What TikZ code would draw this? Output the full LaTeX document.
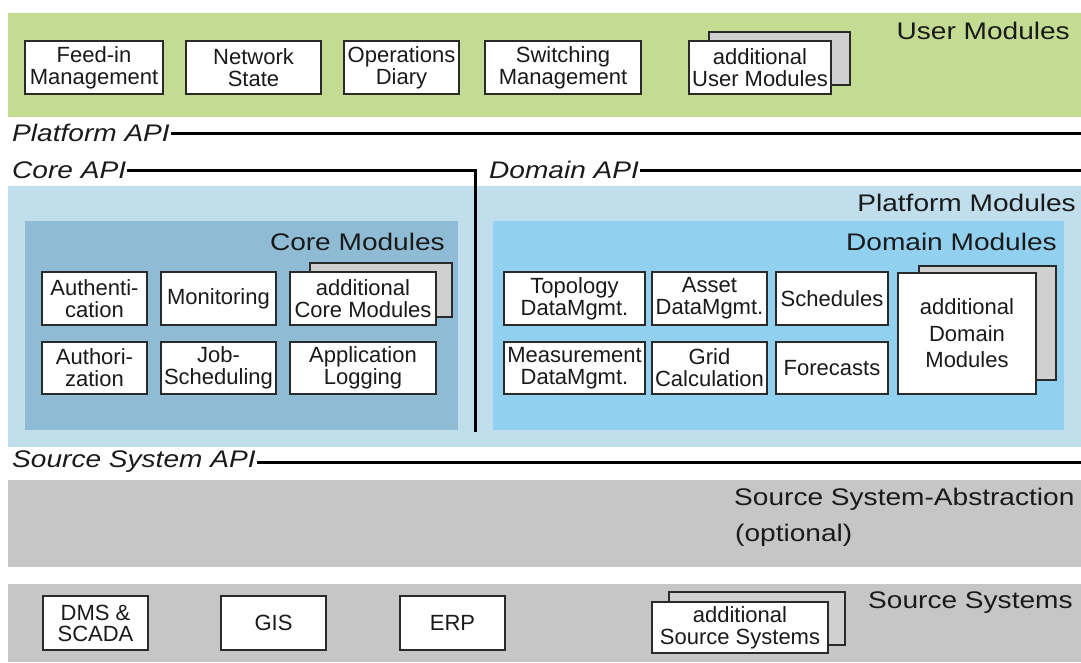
\documentclass[tikz,border=0pt]{standalone}
\usepackage{fontspec}
\setmainfont{Liberation Sans}
\newfontfamily\labelfont[FakeStretch=1.17]{Liberation Sans}

\definecolor{userfill}{HTML}{C4DC92}
\definecolor{platfill}{HTML}{C0DEEC}
\definecolor{corefill}{HTML}{8FBCD4}
\definecolor{domfill}{HTML}{92D0F0}
\definecolor{srcfill}{HTML}{C6C6C6}
\definecolor{shade}{HTML}{D0D0D0}
\definecolor{boxline}{HTML}{2A2A2A}
\definecolor{ink}{HTML}{1A1A1A}

\begin{document}
\begin{tikzpicture}[x=1pt,y=-1pt,
  % a rectangle node spanning the corners (#1,#2) and (#3,#4)
  span/.style n args={4}{rectangle,minimum width={#3-#1},minimum height={#4-#2},
    at={({(#1+#3)/2},{(#2+#4)/2})}},
  layer/.style={draw=none,inner sep=0pt},
  mod/.style={draw=boxline,fill=white,line width=1.6pt,inner sep=0pt,
    align=center,text=ink,font=\fontsize{22}{22}\selectfont},
  backbox/.style={draw=boxline,fill=shade,line width=1.6pt,inner sep=0pt},
  title/.style={font=\labelfont\fontsize{24}{28}\selectfont,text=ink,inner sep=0pt},
  apilabel/.style={font=\labelfont\itshape\fontsize{24}{28}\selectfont,text=ink,inner sep=1pt},
  api/.style={draw=black,line width=3pt}
]
\useasboundingbox (0,0) rectangle (1081,662);

% ---------- layers ----------
\node[layer,fill=userfill,span={8}{13}{1081}{117}] (userband) {};
\node[layer,fill=platfill,span={8}{186}{1081}{447}] (platband) {};
\node[layer,fill=corefill,span={25}{221}{458}{430}] (coreband) {};
\node[layer,fill=domfill,span={493}{221}{1064}{430}] (domband) {};
\node[layer,fill=srcfill,span={8}{480}{1081}{567}] (absband) {};
\node[layer,fill=srcfill,span={8}{584}{1081}{662}] (srcband) {};

% ---------- layer titles ----------
\node[title,anchor=base east] (usertitle) at (1070,39) {User Modules};
\node[title,anchor=base east] (plattitle) at (1076,211) {Platform Modules};
\node[title,anchor=base east] (coretitle) at (445,250) {Core Modules};
\node[title,anchor=base east] (domtitle) at (1057,250) {Domain Modules};
\node[title,anchor=base west] (abstitle) at (734,505) {Source System-Abstraction};
\node[title,anchor=base west] (absopt) at (735,541) {(optional)};
\node[title,anchor=base west] (srctitle) at (868,608) {Source Systems};

% ---------- APIs ----------
\coordinate (rightend) at (1081,0);
\coordinate (coredrop) at (475,432);
\node[apilabel,anchor=west] (papi) at (11,133) {Platform API};
\node[apilabel,anchor=west] (capi) at (11,170) {Core API};
\node[apilabel,anchor=west] (dapi) at (488,170) {Domain API};
\node[apilabel,anchor=west] (sapi) at (11,462) {Source System API};
\draw[api] (papi.east) -- (papi.east -| rightend);
\draw[api] (capi.east) -| (coredrop);
\draw[api] (dapi.east) -- (dapi.east -| rightend);
\draw[api] (sapi.east) -- (sapi.east -| rightend);

% ---------- user modules ----------
\node[mod,span={25}{41}{163}{94}] (feedin) {Feed-in\\Management};
\node[mod,span={186}{41}{321}{94}] (netstate) {Network\\State};
\node[mod,span={344}{41}{459}{94}] (opsdiary) {Operations\\Diary};
\node[mod,span={485}{41}{641}{94}] (switching) {Switching\\Management};
\node[backbox,span={709}{32}{850}{85}] (usermoreback) {};
\node[mod,span={689}{41}{831}{94}] (usermore) {additional\\User Modules};

% ---------- core modules ----------
\node[mod,span={42}{272}{147}{325}] (authn) {Authenti-\\cation};
\node[mod,span={161}{272}{276}{325}] (monitor) {Monitoring};
\node[backbox,span={310}{263}{452}{317}] (coremoreback) {};
\node[mod,span={290}{272}{436}{325}] (coremore) {additional\\Core Modules};
\node[mod,span={42}{342}{147}{394}] (authz) {Authori-\\zation};
\node[mod,span={161}{342}{276}{394}] (jobs) {Job-\\Scheduling};
\node[mod,span={290}{342}{436}{394}] (applog) {Application\\Logging};

% ---------- domain modules ----------
\node[mod,span={504}{272}{645}{325}] (topo) {Topology\\DataMgmt.};
\node[mod,span={652}{272}{767}{325}] (asset) {Asset\\DataMgmt.};
\node[mod,span={776}{272}{888}{325}] (sched) {Schedules};
\node[mod,span={504}{342}{645}{394}] (meas) {Measurement\\DataMgmt.};
\node[mod,span={652}{342}{767}{394}] (grid) {Grid\\Calculation};
\node[mod,span={776}{342}{888}{394}] (forecast) {Forecasts};
\node[backbox,span={919}{266}{1056}{380}] (dommoreback) {};
\node[mod,span={898}{273}{1036}{394},font=\fontsize{22}{26.5}\selectfont] (dommore) {additional\\Domain\\Modules};

% ---------- source systems ----------
\node[mod,span={43}{596}{148}{650},font=\fontsize{22}{21}\selectfont] (dms) {DMS \&\\SCADA};
\node[mod,span={221}{596}{326}{650}] (gis) {GIS};
\node[mod,span={400}{596}{505}{650}] (erp) {ERP};
\node[backbox,span={669}{592}{845}{645}] (srcmoreback) {};
\node[mod,span={652}{602}{828}{653}] (srcmore) {additional\\Source Systems};
\end{tikzpicture}
\end{document}
